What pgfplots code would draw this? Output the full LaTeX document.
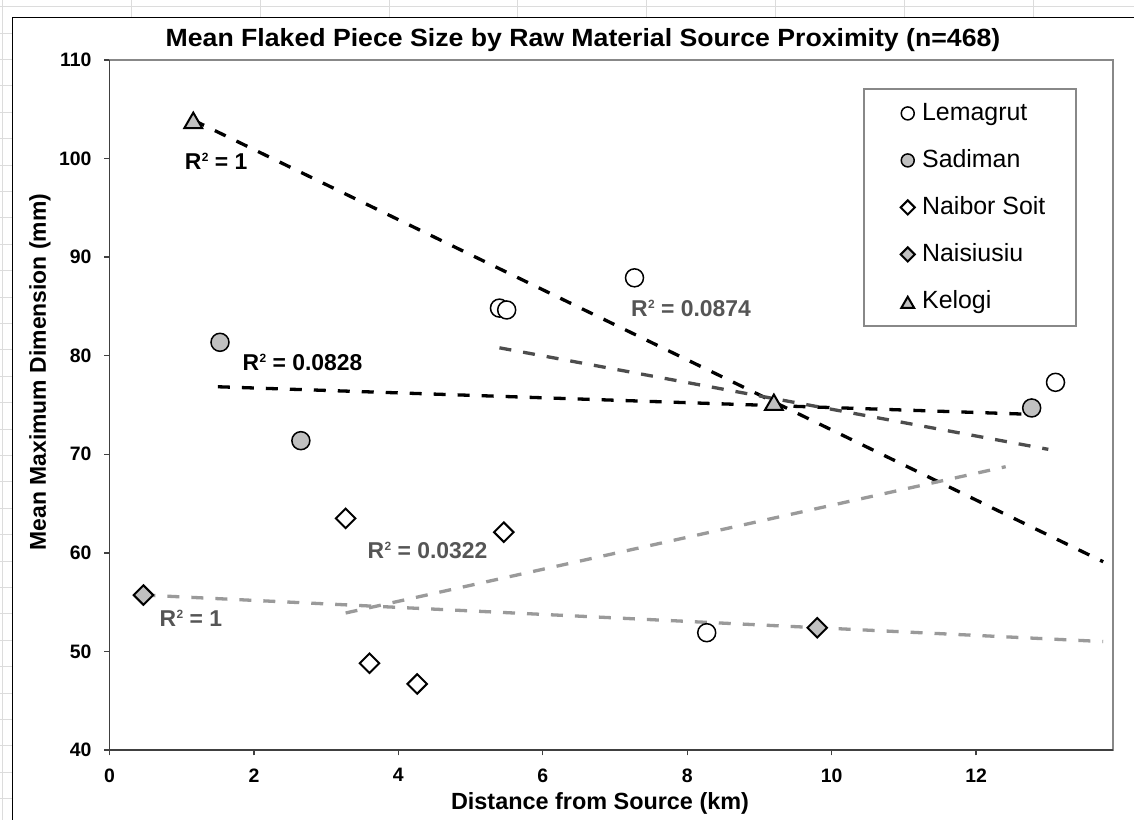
\documentclass[border=0pt]{standalone}
\usepackage{fontspec}
\setmainfont{Liberation Sans}
\usepackage{graphicx}
\usepackage{pgfplots}
\pgfplotsset{compat=1.18}
\definecolor{mgray}{HTML}{C0C0C0}
\definecolor{tdark}{HTML}{4D4D4D}
\definecolor{tlight}{HTML}{9A9A9A}
\definecolor{lbl}{HTML}{555555}
\definecolor{cell}{HTML}{DCDCDC}
\definecolor{frame}{HTML}{888888}
\definecolor{axdark}{HTML}{404040}
\newcommand{\rsq}{R\kern0.5bp\raisebox{7.9bp}{\fontsize{12}{12}\selectfont 2}}
\begin{document}
\begin{tikzpicture}
\fill[white] (0bp,0bp) rectangle (1134bp,820bp);
% spreadsheet background cells
\foreach \x in {131.3,260.1,388.9,517.7,646.5,775.3,904.1,1032.9}
  \draw[cell, line width=0.8bp] (\x bp,802.3bp) -- (\x bp,820bp);
\draw[cell, line width=0.8bp] (2.5bp,0bp) -- (2.5bp,820bp);
\foreach \k in {0,...,30}
  \draw[cell, line width=0.8bp] (0bp,{(813.4-26.4*\k)*1bp}) -- (12.7bp,{(813.4-26.4*\k)*1bp});
\draw[cell, line width=0.8bp] (12.7bp,813.4bp) -- (1134bp,813.4bp);
% chart area border
\draw[black, line width=1.3bp] (12.7bp,0bp) -- (12.7bp,802.3bp) -- (1134bp,802.3bp);

\begin{axis}[
  at={(109.5bp,70bp)}, anchor=south west, scale only axis,
  width=1003.8bp, height=690bp,
  xmin=0, xmax=13.9, ymin=40, ymax=110,
  xtick={0,2,...,12}, ytick={40,50,...,110},
  minor tick num=0,
  tick align=outside, tick pos=left, major tick length=5.3bp,
  every tick/.style={axdark, line width=1.3bp},
  axis line style={draw=frame, line width=1.8bp},
  /pgf/number format/assume math mode=true,
  tick label style={font=\fontsize{19.5}{19.5}\selectfont\bfseries, inner sep=0pt},
  xticklabel shift=13bp, yticklabel shift=12.5bp,
  clip=false,
  legend style={at={(0.7506,0.9594)}, anchor=north west, draw=frame, line width=1.8bp, fill=white,
    font=\fontsize{25}{25}\selectfont, inner xsep=31bp, inner ysep=14bp, row sep=26bp,
    nodes={inner sep=0pt, text height=18bp, text depth=3bp}},
  legend cell align=left,
  legend image code/.code={\path (-12bp,0bp) (13.5bp,0bp);
    \draw[#1, every mark/.append style={scale=0.72}] plot coordinates {(0bp,0bp)};},
]
\addplot[only marks, mark=*, mark size=9bp, mark options={draw=black, fill=white, line width=1.5bp}]
  coordinates {(5.40,84.83) (5.50,84.64) (7.27,87.9) (8.27,51.9) (13.1,77.3)};
\addlegendentry{Lemagrut}
\addplot[only marks, mark=*, mark size=9bp, mark options={draw=black, fill=mgray, line width=1.5bp}]
  coordinates {(1.53,81.36) (2.65,71.38) (12.77,74.7)};
\addlegendentry{Sadiman}
\addplot[only marks, mark=square*, mark size=6.9bp, mark options={rotate=45, draw=black, fill=white, line width=2bp}]
  coordinates {(3.27,63.5) (3.60,48.8) (4.26,46.7) (5.46,62.1)};
\addlegendentry{Naibor Soit}
\addplot[only marks, mark=square*, mark size=6.9bp, mark options={rotate=45, draw=black, fill=mgray, line width=2bp}]
  coordinates {(0.47,55.72) (9.80,52.4)};
\addlegendentry{Naisiusiu}
\addplot[only marks, mark=triangle*, mark size=10.3bp, mark options={draw=black, fill=mgray, line width=2bp, yshift=-2.8bp}]
  coordinates {(1.16,103.9) (9.2,75.3)};
\addlegendentry{Kelogi}

% trendlines
\addplot[forget plot, black, line width=3.3bp, dash pattern=on 12bp off 12bp] coordinates {(1.16,103.9) (13.76,59.1)};
\addplot[forget plot, black, line width=3.3bp, dash pattern=on 12bp off 12bp] coordinates {(1.50,76.85) (12.77,74.05)};
\addplot[forget plot, tdark, line width=3.3bp, dash pattern=on 12bp off 12bp] coordinates {(5.40,80.8) (13.0,70.5)};
\addplot[forget plot, tlight, line width=3.3bp, dash pattern=on 12bp off 12bp] coordinates {(3.27,53.9) (12.41,68.74)};
\addplot[forget plot, tlight, line width=3.3bp, dash pattern=on 12bp off 12bp] coordinates {(0.47,55.72) (13.76,51.0)};

% R^2 labels
\node[anchor=west, inner sep=0pt, font=\fontsize{23}{23}\selectfont\bfseries] at (axis cs:1.04,99.7) {\rsq{} = 1};
\node[anchor=west, inner sep=0pt, font=\fontsize{23}{23}\selectfont\bfseries] at (axis cs:1.84,79.33) {\rsq{} = 0.0828};
\node[anchor=west, inner sep=0pt, text=lbl, font=\fontsize{23}{23}\selectfont\bfseries] at (axis cs:7.22,84.81) {\rsq{} = 0.0874};
\node[anchor=west, inner sep=0pt, text=lbl, font=\fontsize{23}{23}\selectfont\bfseries] at (axis cs:3.57,60.22) {\rsq{} = 0.0322};
\node[anchor=west, inner sep=0pt, text=lbl, font=\fontsize{23}{23}\selectfont\bfseries] at (axis cs:0.69,53.36) {\rsq{} = 1};

% dark left and bottom axis lines
\draw[axdark, line width=1.6bp] (rel axis cs:0,1) -- (rel axis cs:0,0) -- (rel axis cs:1,0);
\end{axis}

\node[anchor=base, inner sep=0pt, font=\fontsize{25}{25}\selectfont\bfseries] at (583bp,773.3bp)
  {\scalebox{1.07}[1]{Mean Flaked Piece Size by Raw Material Source Proximity (n=468)}};
\node[anchor=base, inner sep=0pt, font=\fontsize{23.5}{23.5}\selectfont\bfseries] at (600bp,11bp)
  {Distance from Source (km)};
\node[rotate=90, inner sep=0pt, font=\fontsize{23}{23}\selectfont\bfseries] at (40bp,448bp)
  {Mean Maximum Dimension (mm)};

\pgfresetboundingbox
\path[use as bounding box] (0bp,0bp) rectangle (1134bp,820bp);
\end{tikzpicture}
\end{document}
